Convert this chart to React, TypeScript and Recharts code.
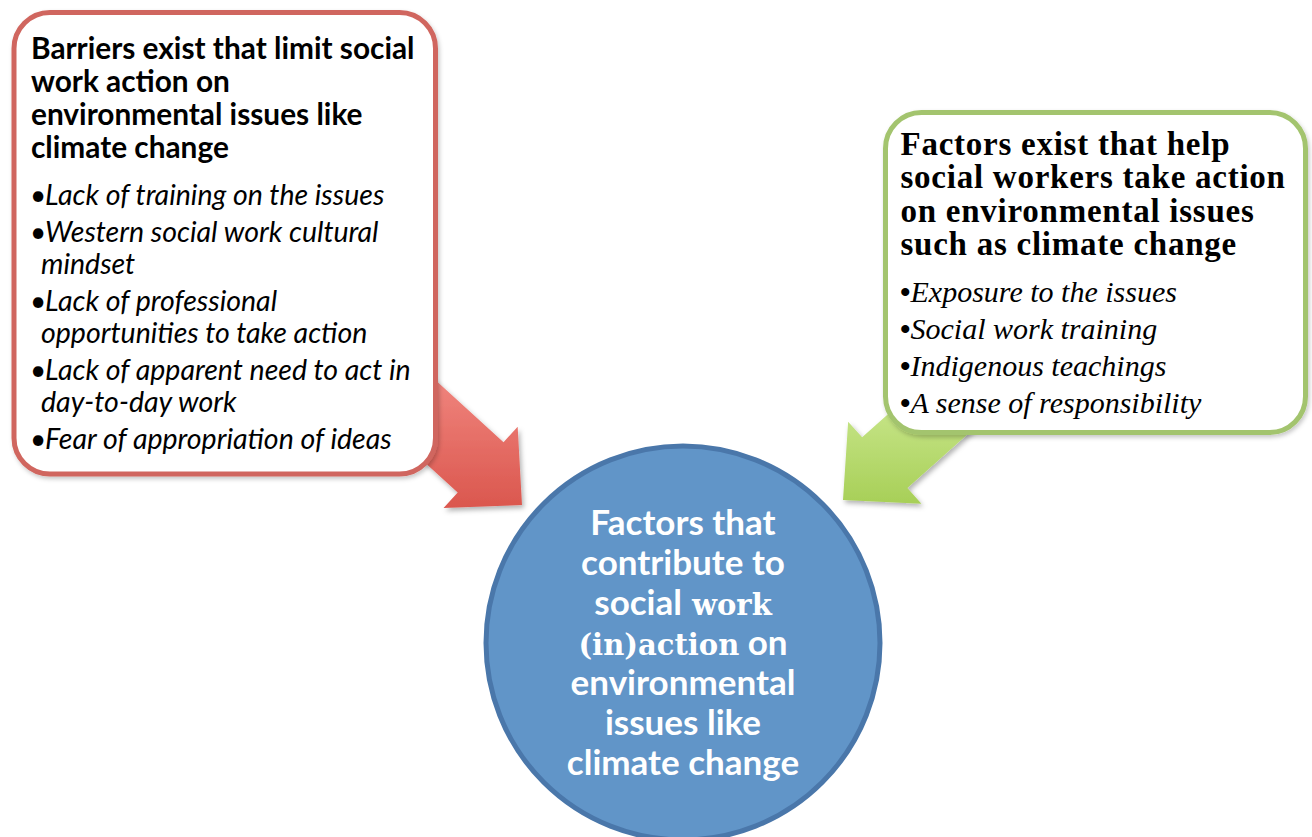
import React from 'react';
import { ScatterChart, Scatter, XAxis, YAxis } from 'recharts';

const WIDTH = 1312;
const HEIGHT = 837;

const barrierTitle = ['Barriers exist that limit social', 'work action on', 'environmental issues like', 'climate change'];
const barrierItems = [
  ['Lack of training on the issues'],
  ['Western social work cultural', 'mindset'],
  ['Lack of professional', 'opportunities to take action'],
  ['Lack of apparent need to act in', 'day-to-day work'],
  ['Fear of appropriation of ideas'],
];
const factorTitle = ['Factors exist that help', 'social workers take action', 'on environmental issues', 'such as climate change'];
const factorItems = ['Exposure to the issues', 'Social work training', 'Indigenous teachings', 'A sense of responsibility'];
const centreLines = ['Factors that', 'contribute to', 'social work', '(in)action on', 'environmental', 'issues like', 'climate change'];
const serifWords = ['work', '(in)action'];

// anchor points of the diagram, in page units
const boxes = [
  { id: 'barriers', x: 224.75, y: 243.25 },
  { id: 'factors', x: 1095.5, y: 272.5 },
];
const hub = [{ id: 'centre', x: 683, y: 643 }];
const arrows = [
  { id: 'barriers', x: 522, y: 505, fromX: 330, fromY: 330 },
  { id: 'factors', x: 843, y: 500, fromX: 992, fromY: 367 },
];

const SANS = 'Lato, Carlito, "Open Sans", sans-serif';
const SERIF = '"Liberation Serif", "DejaVu Serif", serif';
const WIDE_SERIF = '"DejaVu Serif", serif';

const arrowColors: Record<string, [string, string, number, number]> = {
  barriers: ['#ef827b', '#da564d', 385, 510],
  factors: ['#c4e384', '#a7cf57', 415, 505],
};

const renderArrow = (props: any) => {
  const { cx, cy, payload } = props;
  // 1 unit = 1px because the plot area covers the whole svg
  const tx = cx + (payload.fromX - payload.x);
  const ty = cy + (payload.fromY - payload.y);
  const len = Math.hypot(cx - tx, cy - ty);
  const dx = (cx - tx) / len;
  const dy = (cy - ty) / len;
  const nx = -dy;
  const ny = dx;
  const shaft = 68;
  const head = 110;
  const headLen = 56;
  const bx = cx - dx * headLen;
  const by = cy - dy * headLen;
  const pts = [
    [tx + (nx * shaft) / 2, ty + (ny * shaft) / 2],
    [bx + (nx * shaft) / 2, by + (ny * shaft) / 2],
    [bx + (nx * head) / 2, by + (ny * head) / 2],
    [cx, cy],
    [bx - (nx * head) / 2, by - (ny * head) / 2],
    [bx - (nx * shaft) / 2, by - (ny * shaft) / 2],
    [tx - (nx * shaft) / 2, ty - (ny * shaft) / 2],
  ];
  const [c1, c2, y1, y2] = arrowColors[payload.id];
  const gid = 'grad-' + payload.id;
  return (
    <g>
      <defs>
        <linearGradient id={gid} gradientUnits="userSpaceOnUse" x1="0" y1={y1} x2="0" y2={y2}>
          <stop offset="0" stopColor={c1} />
          <stop offset="1" stopColor={c2} />
        </linearGradient>
        <filter id={'sh-' + payload.id} x="-20%" y="-20%" width="140%" height="140%">
          <feDropShadow dx="2" dy="3" stdDeviation="2.5" floodColor="#000" floodOpacity="0.3" />
        </filter>
      </defs>
      <polygon
        points={pts.map((p) => p.join(',')).join(' ')}
        fill={`url(#${gid})`}
        filter={`url(#sh-${payload.id})`}
      />
    </g>
  );
};

const renderBox = (props: any) => {
  const { cx, cy, payload } = props;
  if (payload.id === 'barriers') {
    const w = 421.5;
    const h = 461.5;
    const left = cx - w / 2;
    const top = cy - h / 2;
    let base = top + 192.5;
    const itemLines: React.ReactNode[] = [];
    barrierItems.forEach((item, i) => {
      if (i > 0) base += 36.5;
      item.forEach((line, j) => {
        if (j > 0) base += 32.5;
        if (j === 0) {
          itemLines.push(
            <text key={`b${i}`} x={left + 16} y={base} fontFamily={SANS} fontSize={28}>•</text>
          );
        }
        itemLines.push(
          <text key={`i${i}-${j}`} x={left + (j === 0 ? 31 : 27)} y={base} fontFamily={SANS} fontSize={28.5} fontStyle="italic">
            {line}
          </text>
        );
      });
    });
    return (
      <g>
        <defs>
          <filter id="box-sh" x="-10%" y="-10%" width="120%" height="120%">
            <feDropShadow dx="1.5" dy="2.5" stdDeviation="2" floodColor="#000" floodOpacity="0.22" />
          </filter>
        </defs>
        <rect x={left} y={top} width={w} height={h} rx={36} ry={36} fill="#fff" stroke="#d0665f" strokeWidth={5} filter="url(#box-sh)" />
        {barrierTitle.map((line, i) => (
          <text key={line} x={left + 17} y={top + 46 + i * 33.3} fontFamily={SANS} fontSize={29.8} fontWeight={700} fill="#000">
            {line}
          </text>
        ))}
        {itemLines}
      </g>
    );
  }
  const w = 420;
  const h = 320;
  const left = cx - w / 2;
  const top = cy - h / 2;
  return (
    <g>
      <rect x={left} y={top} width={w} height={h} rx={36} ry={36} fill="#fff" stroke="#a3c46e" strokeWidth={5} filter="url(#box-sh)" />
      {factorTitle.map((line, i) => (
        <text key={line} x={left + 15} y={top + 42.5 + i * 33.4} fontFamily={SERIF} fontSize={33} letterSpacing={0.75} fontWeight={700} fill="#000">
          {line}
        </text>
      ))}
      {factorItems.map((line, i) => (
        <text key={line} x={left + 14.5} y={top + 189 + i * 37} fontFamily={SERIF} fontSize={30} fill="#000">
          <tspan fontWeight={700}>•</tspan>
          <tspan fontStyle="italic">{line}</tspan>
        </text>
      ))}
    </g>
  );
};

const renderHub = (props: any) => {
  const { cx, cy } = props;
  return (
    <g>
      <circle cx={cx} cy={cy} r={197} fill="#6195c8" stroke="#4a77aa" strokeWidth={5} />
      {centreLines.map((line, i) => (
        <text key={line} x={cx} y={cy - 108 + i * 40} textAnchor="middle" fill="#fff" fontFamily={SANS} fontSize={35} fontWeight={700}>
          {line.split(' ').map((word, k) => (
            <tspan key={k} fontFamily={serifWords.includes(word) ? WIDE_SERIF : SANS} fontSize={serifWords.includes(word) ? 29 : 35}>
              {(k > 0 ? ' ' : '') + word}
            </tspan>
          ))}
        </text>
      ))}
    </g>
  );
};

export default function App() {
  return (
    <div style={{ position: 'fixed', left: 0, top: 0, width: WIDTH, height: HEIGHT, background: '#fff' }}>
      <ScatterChart width={WIDTH} height={HEIGHT} margin={{ top: 0, right: 0, bottom: 0, left: 0 }}>
        <XAxis type="number" dataKey="x" domain={[0, WIDTH]} hide allowDataOverflow />
        <YAxis type="number" dataKey="y" domain={[0, HEIGHT]} reversed hide allowDataOverflow />
        <Scatter data={arrows} shape={renderArrow} isAnimationActive={false} />
        <Scatter data={boxes} shape={renderBox} isAnimationActive={false} />
        <Scatter data={hub} shape={renderHub} isAnimationActive={false} />
      </ScatterChart>
    </div>
  );
}
